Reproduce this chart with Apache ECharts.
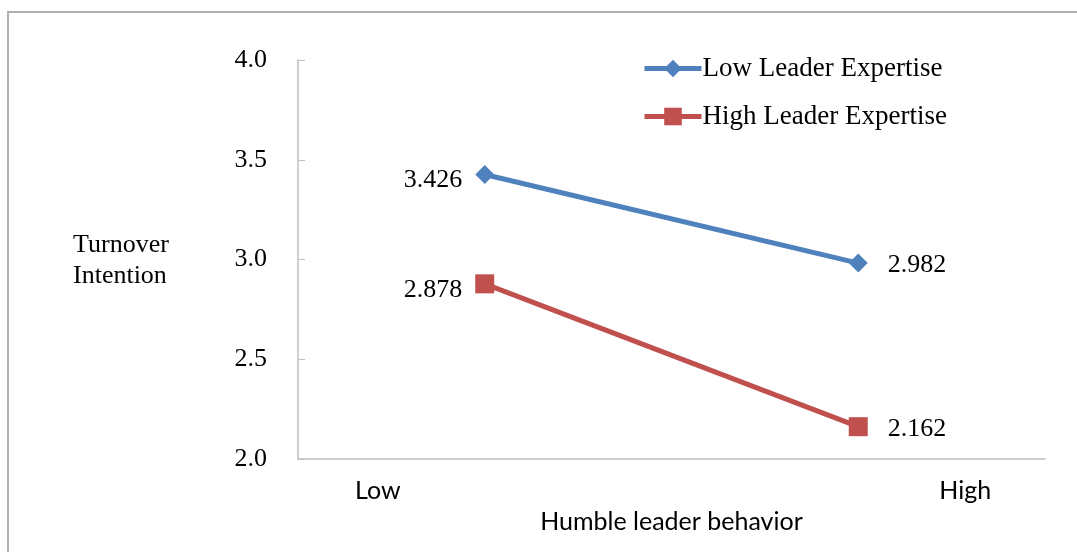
<!DOCTYPE html>
<html>
<head>
<meta charset="utf-8">
<script src="https://cdn.jsdelivr.net/npm/echarts@6/dist/echarts.min.js"></script>
<style>html,body{margin:0;padding:0;background:#fff}#c{width:1077px;height:552px}</style>
</head>
<body>
<div id="c"></div>
<script>
const categories = ['Low', 'High'];
const lowExpertise = [3.426, 2.982];
const highExpertise = [2.878, 2.162];
const yTicks = { min: 2.0, max: 4.0, interval: 0.5 };
const seriesNames = ['Low Leader Expertise', 'High Leader Expertise'];

const serif = '"Liberation Serif", "Times New Roman", serif';
const sans = 'Lato, "Open Sans", sans-serif';

function labeled(values) {
  return values.map((v, i) => ({
    value: v,
    label: {
      show: true,
      position: i === 0 ? 'left' : 'right',
      distance: i === 0 ? 13 : 20,
      offset: [0, i === 0 ? 6 : 2],
      formatter: (p) => p.value.toFixed(3),
      fontFamily: serif, fontSize: 26, color: '#000'
    }
  }));
}

const chart = echarts.init(document.getElementById('c'), null, { renderer: 'canvas' });
chart.setOption({
  animation: false,
  backgroundColor: '#fff',
  grid: { left: 298, top: 60, right: 32, bottom: 93, containLabel: false },
  legend: {
    orient: 'vertical', left: 637, top: 50, itemWidth: 57, itemHeight: 22, itemGap: 21,
    lineStyle: { width: 5 },
    textStyle: { fontFamily: serif, fontSize: 27, color: '#000', padding: [0, 0, 0, -4] },
    data: seriesNames
  },
  xAxis: {
    type: 'category', data: categories, boundaryGap: true,
    axisLine: { lineStyle: { color: '#bfbfbf', width: 1.5 } },
    axisTick: { inside: true, length: 7, lineStyle: { color: '#bfbfbf' } },
    axisLabel: {
      margin: 19, color: '#000', fontFamily: sans, fontSize: 25,
      formatter: (v) => v === categories[0] ? '{l|' + v + '}' : '{h|' + v + '}',
      rich: {
        l: { padding: [0, 214, 0, 0], fontFamily: sans, fontSize: 25, color: '#000' },
        h: { padding: [0, 0, 0, 214], fontFamily: sans, fontSize: 25, color: '#000' }
      }
    },
    name: 'Humble leader behavior', nameLocation: 'middle', nameGap: 50,
    nameTextStyle: { fontFamily: sans, fontSize: 25, color: '#000' }
  },
  yAxis: {
    type: 'value', min: yTicks.min, max: yTicks.max, interval: yTicks.interval,
    axisLine: { show: true, lineStyle: { color: '#bfbfbf', width: 1.5 } },
    axisTick: { show: true, inside: true, length: 7, lineStyle: { color: '#bfbfbf' } },
    splitLine: { show: false },
    axisLabel: { margin: 31, color: '#000', fontFamily: serif, fontSize: 26, formatter: (v) => v.toFixed(1) }
  },
  graphic: [
    { type: 'polyline', shape: { points: [[8, 560], [8, 12], [1085, 12]] }, style: { stroke: '#b0b0b0', lineWidth: 2, fill: null } },
    { type: 'text', left: 73, top: 230, style: { text: 'Turnover\nIntention', align: 'center', fontFamily: serif, fontSize: 26, lineHeight: 31, fill: '#000' } }
  ],
  series: [
    { name: seriesNames[0], type: 'line', data: labeled(lowExpertise), symbol: 'diamond', symbolSize: 19,
      lineStyle: { color: '#4f81bd', width: 5 }, itemStyle: { color: '#4f81bd' } },
    { name: seriesNames[1], type: 'line', data: labeled(highExpertise), symbol: 'rect', symbolSize: 19,
      lineStyle: { color: '#c0504d', width: 5 }, itemStyle: { color: '#c0504d' } }
  ]
});
</script>
</body>
</html>
